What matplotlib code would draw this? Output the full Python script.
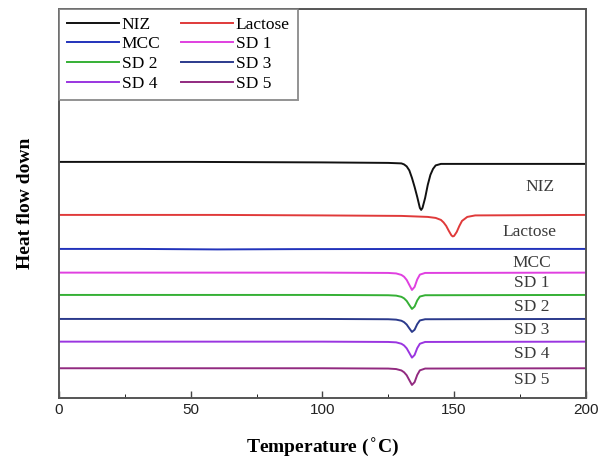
import matplotlib.pyplot as plt

# temperature grids (deg C) and read-off curve values (arbitrary offset units)
t_niz = [0, 50, 100, 125, 130, 131, 132, 133, 134, 135, 136, 137, 137.5, 138, 139, 140, 141, 142, 143, 145, 200]
niz = [236, 236, 235.5, 235, 234.5, 233.5, 231.5, 227.5, 220, 211, 201, 190, 188, 190, 200, 213, 223, 229, 232.5, 234, 234]

t_lac = [0, 60, 100, 130, 140, 143, 145, 146, 147, 148, 149, 149.5, 150, 151, 152, 153, 155, 158, 200]
lactose = [183, 183, 182.5, 182, 181, 180, 178, 175.5, 172, 167, 162.5, 161.5, 162, 166, 172, 177, 181, 182.5, 183]

t_mcc = [0, 30, 60, 90, 150, 200]
mcc = [149, 149, 148.5, 148.8, 149, 149]

t_sd = [0, 100, 125, 128, 130, 131, 132, 133, 134, 135, 136, 137, 139, 200]
sd1 = [125.3, 125.3, 125, 124.5, 123, 121.2, 118, 113, 108, 111, 118.5, 123.3, 125, 125.3]
sd2 = [103, 103, 102.7, 102.3, 101.1, 99.6, 97, 92.9, 89, 91.4, 97.5, 101.4, 102.7, 103]
sd3 = [79, 79, 78.7, 78.3, 77.2, 75.8, 73.4, 69.6, 66, 68.2, 73.8, 77.5, 78.7, 79]
sd4 = [56.3, 56.3, 56, 55.6, 54.2, 52.5, 49.6, 45, 40.3, 43, 49.8, 54.2, 56, 56.3]
sd5 = [29.7, 29.7, 29.4, 28.9, 27.5, 25.7, 22.7, 17.8, 13, 15.8, 23, 27.6, 29.4, 29.7]

names = ['NIZ', 'Lactose', 'MCC', 'SD 1', 'SD 2', 'SD 3', 'SD 4', 'SD 5']
temps = [t_niz, t_lac, t_mcc, t_sd, t_sd, t_sd, t_sd, t_sd]
curves = [niz, lactose, mcc, sd1, sd2, sd3, sd4, sd5]
colors = ['#111111', '#e03a3a', '#2233bb', '#e040e0', '#35b035', '#2b3a8c', '#9a35e0', '#922a80']

# label positions (deg C, value)
lab_x = [182.5, 178.5, 179.5, 179.5, 179.5, 179.5, 179.5, 179.5]
lab_y = [211, 166, 135, 115, 91, 68, 44, 18]

serif = ['Liberation Serif', 'DejaVu Serif']
sans = ['Liberation Sans', 'DejaVu Sans']

fig = plt.figure(figsize=(6.09, 4.66), dpi=100)
ax = fig.add_axes([0.0969, 0.146, 0.865, 0.835])

lines = []
for t, c, col, n in zip(temps, curves, colors, names):
    ln, = ax.plot(t, c, color=col, lw=1.4, label=n)
    lines.append(ln)

for n, x, y in zip(names, lab_x, lab_y):
    ax.text(x, y, n, family=serif, fontsize=12.5, color='#3a3a3a', ha='center', va='center')

ax.set_xlim(0, 200)
ax.set_ylim(0, 389)
ax.set_xticks([0, 50, 100, 150, 200])
ax.set_xticks([25, 75, 125, 175], minor=True)
ax.set_yticks([])
ax.tick_params(axis='x', direction='in', length=5, width=1, colors='#444444', labelcolor='#222222')
ax.tick_params(axis='x', which='minor', direction='in', length=3)
for lbl in ax.get_xticklabels():
    lbl.set_family(sans)
    lbl.set_fontsize(11)
for s in ax.spines.values():
    s.set_color('#555555')
    s.set_linewidth(1.4)

ax.set_xlabel('Temperature ($^{\\circ}$C)', family=serif, fontsize=14, fontweight='bold', labelpad=14)
ax.set_ylabel('Heat flow down', family=serif, fontsize=14, fontweight='bold', labelpad=18)

# legend filled row by row: NIZ Lactose / MCC SD1 / SD2 SD3 / SD4 SD5
order = [0, 2, 4, 6, 1, 3, 5, 7]
leg = ax.legend([lines[i] for i in order], [names[i] for i in order],
                loc='upper left', ncol=2, borderaxespad=0, prop={'family': serif, 'size': 12.5},
                fancybox=False, handlelength=3.0, columnspacing=1.2, labelspacing=0.2,
                handletextpad=0.15, borderpad=0.45)
leg.get_frame().set_edgecolor('#777777')
leg.get_frame().set_linewidth(1.4)

fig.savefig('out.png', dpi=100)
